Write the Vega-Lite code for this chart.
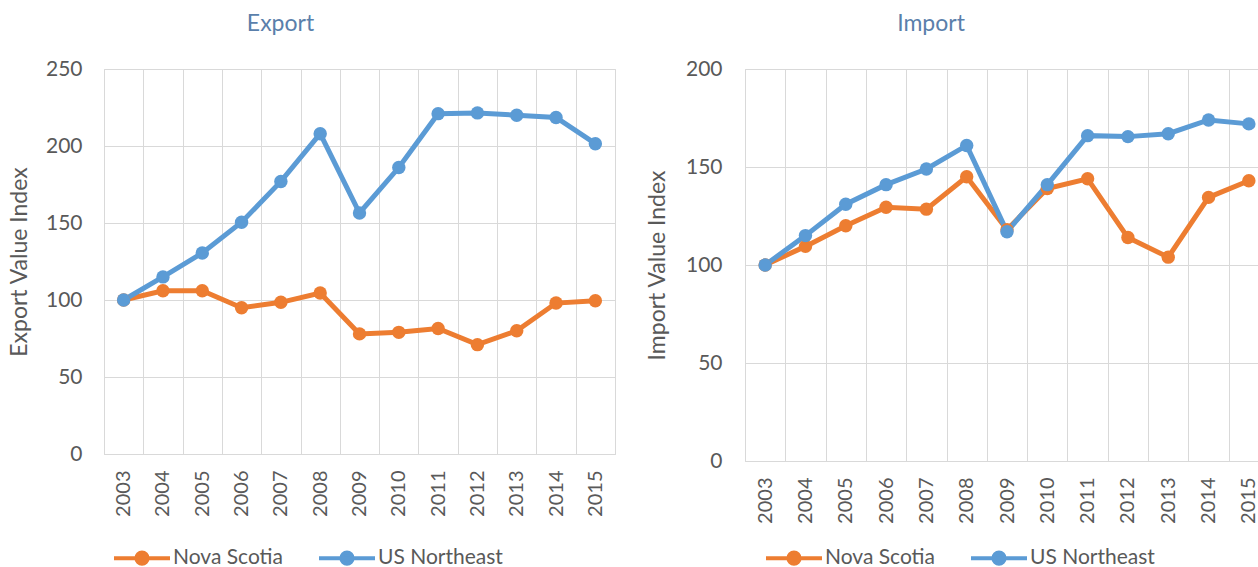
{
  "$schema": "https://vega.github.io/schema/vega-lite/v6.json",
  "padding": {"left": 7, "top": 12, "right": 0, "bottom": 0},
  "background": "white",
  "datasets": {
    "export": [
      {"year": "2003", "series": "Nova Scotia", "value": 100},
      {"year": "2004", "series": "Nova Scotia", "value": 106},
      {"year": "2005", "series": "Nova Scotia", "value": 106},
      {"year": "2006", "series": "Nova Scotia", "value": 95},
      {"year": "2007", "series": "Nova Scotia", "value": 98.5},
      {"year": "2008", "series": "Nova Scotia", "value": 104.5},
      {"year": "2009", "series": "Nova Scotia", "value": 78},
      {"year": "2010", "series": "Nova Scotia", "value": 79},
      {"year": "2011", "series": "Nova Scotia", "value": 81.5},
      {"year": "2012", "series": "Nova Scotia", "value": 71},
      {"year": "2013", "series": "Nova Scotia", "value": 80},
      {"year": "2014", "series": "Nova Scotia", "value": 98},
      {"year": "2015", "series": "Nova Scotia", "value": 99.5},
      {"year": "2003", "series": "US Northeast", "value": 100},
      {"year": "2004", "series": "US Northeast", "value": 115},
      {"year": "2005", "series": "US Northeast", "value": 130.5},
      {"year": "2006", "series": "US Northeast", "value": 150.5},
      {"year": "2007", "series": "US Northeast", "value": 177},
      {"year": "2008", "series": "US Northeast", "value": 208},
      {"year": "2009", "series": "US Northeast", "value": 156.5},
      {"year": "2010", "series": "US Northeast", "value": 186},
      {"year": "2011", "series": "US Northeast", "value": 221},
      {"year": "2012", "series": "US Northeast", "value": 221.5},
      {"year": "2013", "series": "US Northeast", "value": 220},
      {"year": "2014", "series": "US Northeast", "value": 218.5},
      {"year": "2015", "series": "US Northeast", "value": 201.5}
    ],
    "import": [
      {"year": "2003", "series": "Nova Scotia", "value": 100},
      {"year": "2004", "series": "Nova Scotia", "value": 109.5},
      {"year": "2005", "series": "Nova Scotia", "value": 120},
      {"year": "2006", "series": "Nova Scotia", "value": 129.5},
      {"year": "2007", "series": "Nova Scotia", "value": 128.5},
      {"year": "2008", "series": "Nova Scotia", "value": 145},
      {"year": "2009", "series": "Nova Scotia", "value": 118},
      {"year": "2010", "series": "Nova Scotia", "value": 139},
      {"year": "2011", "series": "Nova Scotia", "value": 144},
      {"year": "2012", "series": "Nova Scotia", "value": 114},
      {"year": "2013", "series": "Nova Scotia", "value": 104},
      {"year": "2014", "series": "Nova Scotia", "value": 134.5},
      {"year": "2015", "series": "Nova Scotia", "value": 143},
      {"year": "2003", "series": "US Northeast", "value": 100},
      {"year": "2004", "series": "US Northeast", "value": 115},
      {"year": "2005", "series": "US Northeast", "value": 131},
      {"year": "2006", "series": "US Northeast", "value": 141},
      {"year": "2007", "series": "US Northeast", "value": 149},
      {"year": "2008", "series": "US Northeast", "value": 161},
      {"year": "2009", "series": "US Northeast", "value": 117},
      {"year": "2010", "series": "US Northeast", "value": 141},
      {"year": "2011", "series": "US Northeast", "value": 166},
      {"year": "2012", "series": "US Northeast", "value": 165.5},
      {"year": "2013", "series": "US Northeast", "value": 167},
      {"year": "2014", "series": "US Northeast", "value": 174},
      {"year": "2015", "series": "US Northeast", "value": 172}
    ]
  },
  "config": {
    "font": "Lato",
    "view": {"stroke": "#d9d9d9", "strokeWidth": 1},
    "axis": {
      "labelFont": "Lato", "labelColor": "#595959", "labelFontSize": 21,
      "titleFont": "Lato", "titleColor": "#595959", "titleFontSize": 23, "titleFontWeight": "normal",
      "gridColor": "#d9d9d9", "gridWidth": 1, "domainColor": "#d9d9d9", "ticks": false
    },
    "title": {"font": "Lato", "fontSize": 23, "fontWeight": "normal", "color": "#5a7fab"},
    "concat": {"spacing": 29}
  },
  "resolve": {"scale": {"y": "independent", "color": "independent", "x": "independent"}, "legend": {"color": "independent"}},
  "hconcat": [
    {
      "title": {"text": "Export", "dx": -79, "offset": 22},
      "width": 511,
      "height": 385,
      "data": {"name": "export"},
      "mark": {"type": "line", "strokeWidth": 5, "point": {"filled": true, "size": 180, "opacity": 1}},
      "encoding": {
        "x": {"field": "year", "type": "ordinal", "bandPosition": 0.5,
              "scale": {"type": "band", "padding": 0},
              "axis": {"title": null, "labelAngle": -90, "labelFontSize": 20, "tickBand": "extent", "grid": true, "labelPadding": 16}},
        "y": {"field": "value", "type": "quantitative",
              "scale": {"domain": [0, 250]},
              "axis": {"title": "Export Value Index", "values": [0, 50, 100, 150, 200, 250], "domain": false, "labelPadding": 22, "titlePadding": 14}},
        "color": {"field": "series", "type": "nominal",
                  "scale": {"domain": ["Nova Scotia", "US Northeast"], "range": ["#ED7D31", "#5B9BD5"]},
                  "legend": {"orient": "none", "legendX": 8, "legendY": 459, "direction": "horizontal", "title": null,
                             "symbolType": "M-1,0L1,0M-0.2,0A0.2,0.2,0,1,1,0.2,0A0.2,0.2,0,1,1,-0.2,0Z",
                             "symbolSize": 3136, "symbolStrokeWidth": 4, "labelFontSize": 21, "labelFont": "Lato", "labelColor": "#595959",
                             "columnPadding": 28, "labelOffset": 1,
                             "encode": {"symbols": {"update": {"fill": {"signal": "datum.value === 'Nova Scotia' ? '#ED7D31' : '#5B9BD5'"}, "stroke": {"signal": "datum.value === 'Nova Scotia' ? '#ED7D31' : '#5B9BD5'"}, "opacity": {"value": 1}}}}}}
      }
    },
    {
      "title": {"text": "Import", "dx": -76, "offset": 22},
      "width": 524,
      "height": 392,
      "data": {"name": "import"},
      "mark": {"type": "line", "strokeWidth": 5, "point": {"filled": true, "size": 180, "opacity": 1}},
      "encoding": {
        "x": {"field": "year", "type": "ordinal", "bandPosition": 0.5,
              "scale": {"type": "band", "padding": 0},
              "axis": {"title": null, "labelAngle": -90, "labelFontSize": 20, "tickBand": "extent", "grid": true, "labelPadding": 16}},
        "y": {"field": "value", "type": "quantitative",
              "scale": {"domain": [0, 200]},
              "axis": {"title": "Import Value Index", "values": [0, 50, 100, 150, 200], "domain": false, "labelPadding": 23, "titlePadding": 16}},
        "color": {"field": "series", "type": "nominal",
                  "scale": {"domain": ["Nova Scotia", "US Northeast"], "range": ["#ED7D31", "#5B9BD5"]},
                  "legend": {"orient": "none", "legendX": 19, "legendY": 459, "direction": "horizontal", "title": null,
                             "symbolType": "M-1,0L1,0M-0.2,0A0.2,0.2,0,1,1,0.2,0A0.2,0.2,0,1,1,-0.2,0Z",
                             "symbolSize": 3136, "symbolStrokeWidth": 4, "labelFontSize": 21, "labelFont": "Lato", "labelColor": "#595959",
                             "columnPadding": 28, "labelOffset": 1,
                             "encode": {"symbols": {"update": {"fill": {"signal": "datum.value === 'Nova Scotia' ? '#ED7D31' : '#5B9BD5'"}, "stroke": {"signal": "datum.value === 'Nova Scotia' ? '#ED7D31' : '#5B9BD5'"}, "opacity": {"value": 1}}}}}}
      }
    }
  ]
}
